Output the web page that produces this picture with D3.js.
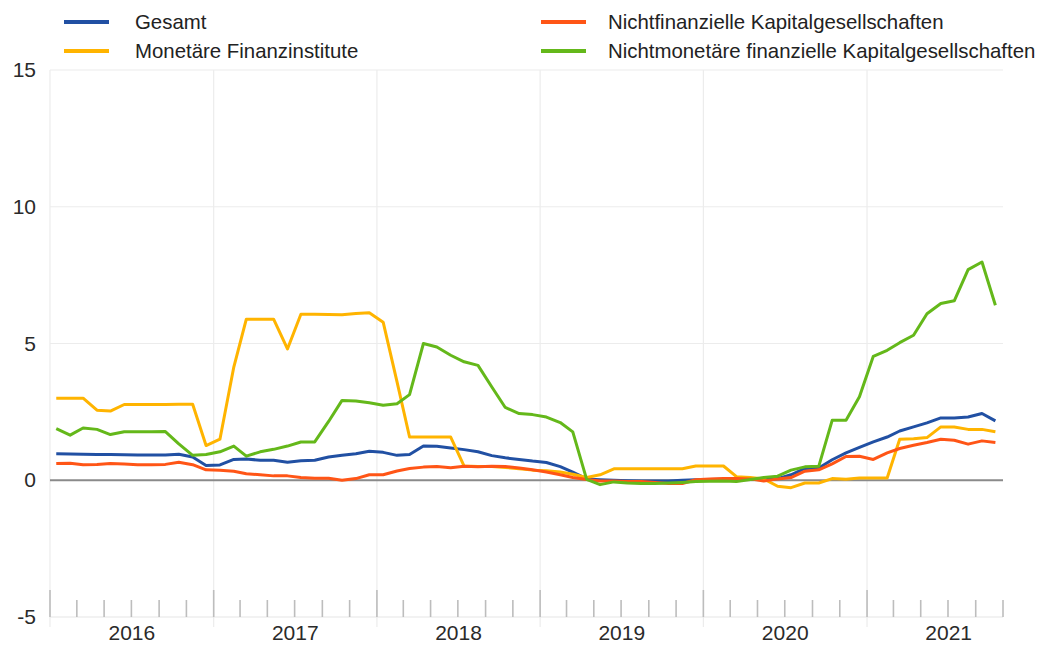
<!DOCTYPE html>
<html>
<head>
<meta charset="utf-8">
<script src="https://cdn.jsdelivr.net/npm/d3@7"></script>
<style>
  html, body { margin: 0; padding: 0; background: #fff; }
  svg { display: block; font-family: "Liberation Sans", Arial, sans-serif; }
</style>
</head>
<body>
<svg id="chart" width="1046" height="645"></svg>
<script>
// ---- Data (monthly, Jan 2016 – Oct 2021) ----
const startMonth = "2016-01";
const monthCount = 70;

const seriesNames = [
  "Gesamt",
  "Monetäre Finanzinstitute",
  "Nichtfinanzielle Kapitalgesellschaften",
  "Nichtmonetäre finanzielle Kapitalgesellschaften"
];
const seriesColors = ["#2150a3", "#ffb400", "#ff5516", "#64b81a"];

const gesamt = [
  0.97, 0.96, 0.95, 0.94, 0.94, 0.93, 0.92, 0.92, 0.92, 0.95, 0.85, 0.54,
  0.56, 0.76, 0.78, 0.73, 0.73, 0.66, 0.71, 0.73, 0.85, 0.91, 0.97, 1.06,
  1.02, 0.91, 0.94, 1.25, 1.24, 1.18, 1.12, 1.04, 0.90, 0.82, 0.76, 0.70,
  0.65, 0.50, 0.30, 0.05, 0.02, 0.00, -0.02, -0.03, -0.03, -0.03, 0.00, 0.02,
  0.03, 0.04, 0.04, 0.04, 0.04, 0.06, 0.20, 0.43, 0.45, 0.75, 1.00, 1.20,
  1.40, 1.58, 1.80, 1.95, 2.10, 2.28, 2.28, 2.31, 2.44, 2.17
];
const monetaere = [
  3.00, 3.00, 3.00, 2.56, 2.53, 2.77, 2.77, 2.77, 2.77, 2.78, 2.78, 1.27,
  1.50, 4.14, 5.89, 5.89, 5.89, 4.80, 6.07, 6.07, 6.06, 6.05, 6.10, 6.12,
  5.78, 3.60, 1.58, 1.58, 1.58, 1.58, 0.52, 0.50, 0.50, 0.47, 0.42, 0.37,
  0.35, 0.30, 0.22, 0.10, 0.20, 0.42, 0.42, 0.42, 0.42, 0.42, 0.42, 0.52,
  0.52, 0.52, 0.13, 0.10, 0.05, -0.22, -0.27, -0.10, -0.10, 0.06, 0.04, 0.08,
  0.08, 0.08, 1.50, 1.52, 1.56, 1.95, 1.95, 1.86, 1.86, 1.77
];
const nichtfinanzielle = [
  0.61, 0.62, 0.57, 0.58, 0.61, 0.59, 0.57, 0.57, 0.58, 0.66, 0.57, 0.38,
  0.37, 0.33, 0.24, 0.20, 0.16, 0.16, 0.10, 0.07, 0.07, 0.00, 0.06, 0.20,
  0.20, 0.34, 0.43, 0.48, 0.50, 0.46, 0.51, 0.49, 0.51, 0.50, 0.45, 0.38,
  0.30, 0.20, 0.10, 0.03, -0.03, -0.03, -0.05, -0.05, -0.08, -0.12, -0.12, 0.02,
  0.05, 0.06, 0.06, 0.05, -0.03, 0.05, 0.10, 0.33, 0.38, 0.60, 0.87, 0.88,
  0.76, 1.00, 1.16, 1.28, 1.38, 1.50, 1.46, 1.32, 1.44, 1.38
];
const nichtmonetaere = [
  1.89, 1.65, 1.91, 1.86, 1.67, 1.77, 1.77, 1.77, 1.78, 1.33, 0.91, 0.94,
  1.04, 1.25, 0.88, 1.04, 1.13, 1.25, 1.40, 1.40, 2.15, 2.92, 2.90, 2.83,
  2.74, 2.80, 3.13, 5.00, 4.87, 4.57, 4.33, 4.20, 3.41, 2.66, 2.44, 2.40,
  2.31, 2.11, 1.77, 0.03, -0.16, -0.06, -0.10, -0.12, -0.12, -0.10, -0.08, -0.05,
  -0.04, -0.03, -0.05, 0.03, 0.10, 0.15, 0.37, 0.49, 0.51, 2.19, 2.19, 3.05,
  4.53, 4.75, 5.03, 5.30, 6.09, 6.46, 6.56, 7.70, 7.98, 6.40
];

const yTicks = [-5, 0, 5, 10, 15];
const yearLabels = ["2016", "2017", "2018", "2019", "2020", "2021"];

// ---- Layout ----
const svg = d3.select("#chart");
const plotL = 50, plotR = 1003, plotT = 70, plotB = 617;

const parseMonth = d3.timeParse("%Y-%m");
const startDate = parseMonth(startMonth);
const dates = d3.range(monthCount).map(i => {
  const d = d3.timeMonth.offset(startDate, i);
  return new Date(d.getFullYear(), d.getMonth(), 15);
});

const x = d3.scaleTime()
  .domain([new Date(2016, 0, 1), new Date(2021, 10, 1)])
  .range([plotL, plotR]);
const y = d3.scaleLinear().domain([-5, 15]).range([plotB, plotT]);

// horizontal grid
svg.append("g").selectAll("line")
  .data(yTicks.filter(v => v !== 0 && v !== -5))
  .join("line")
  .attr("x1", plotL).attr("x2", plotR)
  .attr("y1", d => y(d)).attr("y2", d => y(d))
  .attr("stroke", "#ececec").attr("stroke-width", 1.2);

// vertical year grid
const yearStarts = yearLabels.map(s => new Date(+s, 0, 1));
svg.append("g").selectAll("line")
  .data(yearStarts)
  .join("line")
  .attr("x1", d => x(d)).attr("x2", d => x(d))
  .attr("y1", plotT).attr("y2", plotB + 10)
  .attr("stroke", "#ececec").attr("stroke-width", 1.2);

// bottom baseline
svg.append("line")
  .attr("x1", plotL).attr("x2", plotR)
  .attr("y1", plotB).attr("y2", plotB)
  .attr("stroke", "#e6e6e6").attr("stroke-width", 1.2);

// axis ticks
const minorTicks = d3.timeMonth.every(2).range(new Date(2016, 0, 1), new Date(2021, 10, 2))
  .filter(d => d.getMonth() !== 0);
svg.append("g").selectAll("line")
  .data(minorTicks)
  .join("line")
  .attr("x1", d => x(d)).attr("x2", d => x(d))
  .attr("y1", plotB - 17).attr("y2", plotB)
  .attr("stroke", "#bdbdbd").attr("stroke-width", 1.6);
svg.append("g").selectAll("line")
  .data(yearStarts)
  .join("line")
  .attr("x1", d => x(d)).attr("x2", d => x(d))
  .attr("y1", plotB - 27).attr("y2", plotB)
  .attr("stroke", "#bdbdbd").attr("stroke-width", 1.6);

// year labels (centered on year span)
svg.append("g").selectAll("text")
  .data(yearLabels)
  .join("text")
  .attr("x", d => (x(new Date(+d, 0, 1)) + x(new Date(+d + 1, 0, 1))) / 2)
  .attr("y", 640)
  .attr("text-anchor", "middle")
  .attr("font-size", 21)
  .attr("fill", "#2a2a2a")
  .text(d => d);

// y labels
svg.append("g").selectAll("text")
  .data(yTicks)
  .join("text")
  .attr("x", 36)
  .attr("y", d => y(d) + 7)
  .attr("text-anchor", "end")
  .attr("font-size", 21)
  .attr("fill", "#2a2a2a")
  .text(d => d);

// zero line
svg.append("line")
  .attr("x1", plotL).attr("x2", plotR)
  .attr("y1", y(0)).attr("y2", y(0))
  .attr("stroke", "#8a8a8a").attr("stroke-width", 2);

// series
const allSeries = [gesamt, monetaere, nichtfinanzielle, nichtmonetaere];
const lineGen = d3.line().x((d, i) => x(dates[i])).y(d => y(d));
svg.append("g").selectAll("path")
  .data(allSeries)
  .join("path")
  .attr("d", d => lineGen(d))
  .attr("fill", "none")
  .attr("stroke", (d, i) => seriesColors[i])
  .attr("stroke-width", 3)
  .attr("stroke-linejoin", "round");

// legend
const legendPos = [
  { sx: 64, tx: 135, ly: 22 },
  { sx: 64, tx: 135, ly: 51 },
  { sx: 541, tx: 608, ly: 22 },
  { sx: 541, tx: 608, ly: 51 }
];
const lg = svg.append("g");
seriesNames.forEach((name, i) => {
  const p = legendPos[i];
  lg.append("line")
    .attr("x1", p.sx).attr("x2", p.sx + 45)
    .attr("y1", p.ly).attr("y2", p.ly)
    .attr("stroke", seriesColors[i]).attr("stroke-width", 4);
  lg.append("text")
    .attr("x", p.tx).attr("y", p.ly + 7)
    .attr("font-size", 20.4)
    .attr("fill", "#222")
    .text(name);
});
</script>
</body>
</html>
